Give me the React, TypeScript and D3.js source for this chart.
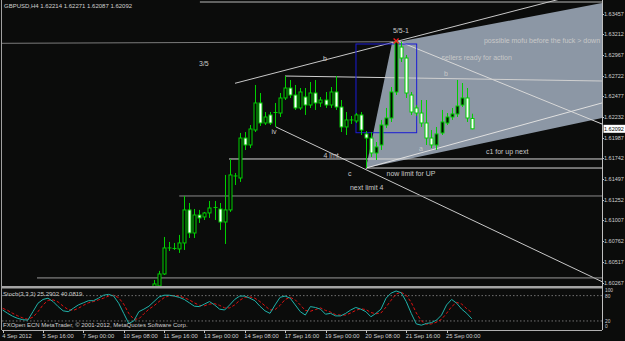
import React from 'react';
import * as d3 from 'd3';

// ---------- data ----------
const firstBar = 30;
const opens = [1.60161,1.60232,1.60374,1.60670,1.60670,1.60670,1.60741,1.61132,1.60859,1.61072,1.61049,1.61096,1.61155,1.61143,1.60989,1.61132,1.61522,1.61510,1.61983,1.61901,1.62078,1.62398,1.62161,1.62256,1.62279,1.62279,1.62457,1.62575,1.62492,1.62339,1.62469,1.62374,1.62516,1.62398,1.62433,1.62374,1.62528,1.62350,1.62114,1.62197,1.62185,1.62256,1.62031,1.61983,1.61806,1.61901,1.62137,1.62220,1.62528,1.63060,1.62930,1.62492,1.62339,1.62279,1.62161,1.61983,1.61901,1.62043,1.62161,1.62232,1.62268,1.62374,1.62457,1.62214];
const highs = [1.60303,1.60410,1.60812,1.60753,1.60741,1.60836,1.61297,1.61214,1.61143,1.61132,1.61108,1.61238,1.61238,1.61214,1.61546,1.61735,1.61569,1.62043,1.62054,1.62137,1.62611,1.62516,1.62291,1.62291,1.62398,1.62516,1.62717,1.62670,1.62611,1.62575,1.62575,1.62646,1.62670,1.62469,1.62528,1.62587,1.62717,1.62433,1.62291,1.62244,1.62279,1.62291,1.62066,1.62054,1.61936,1.62197,1.62339,1.62587,1.63143,1.63120,1.62966,1.62528,1.62374,1.62433,1.62433,1.62078,1.62114,1.62315,1.62279,1.62339,1.62670,1.62634,1.62575,1.62271];
const lows = [1.60114,1.60161,1.60362,1.60646,1.60658,1.60623,1.60658,1.60800,1.60800,1.60978,1.61013,1.61037,1.61013,1.60895,1.60729,1.61108,1.61427,1.61463,1.61841,1.61865,1.62054,1.62125,1.62137,1.62137,1.62114,1.62232,1.62433,1.62457,1.62315,1.62315,1.62256,1.62339,1.62315,1.62350,1.62339,1.62339,1.62315,1.62054,1.62019,1.62149,1.62161,1.62019,1.61628,1.61759,1.61723,1.61841,1.62102,1.62173,1.62492,1.62883,1.62457,1.62256,1.62244,1.62114,1.61901,1.61865,1.61841,1.62019,1.62137,1.62197,1.62232,1.62350,1.62173,1.62087];
const closes = [1.60256,1.60374,1.60682,1.60682,1.60676,1.60741,1.61132,1.60859,1.61072,1.61037,1.61096,1.61155,1.61161,1.60989,1.61132,1.61546,1.61534,1.61983,1.61901,1.62090,1.62398,1.62161,1.62232,1.62161,1.62285,1.62457,1.62575,1.62492,1.62339,1.62528,1.62374,1.62516,1.62398,1.62433,1.62374,1.62528,1.62350,1.62114,1.62197,1.62190,1.62256,1.62078,1.61983,1.61806,1.61877,1.62137,1.62220,1.62528,1.63120,1.62930,1.62516,1.62291,1.62279,1.62161,1.61983,1.61901,1.62031,1.62173,1.62232,1.62268,1.62362,1.62457,1.62220,1.62092];

const stochK = [46,38,31,26,23,22,42,62,71,74,66,54,44,42,50,58,63,68,68,74,81,83,79,62,38,14,20,42,48,55,66,77,81,81,79,76,71,63,55,54,60,
  66,58,48,46,58,71,79,79,74,68,55,44,38,58,76,79,74,58,42,34,54,
  52,48,36,38,32,32,38,46,52,48,42,30,38,48,74,86,91,87,66,38,13,10,14,16,22,34,58,71,62,48,38,25];
const stochD = [50,45,38,32,27,24,29,42,58,69,70,65,55,47,45,50,57,63,66,70,74,79,81,75,60,38,24,25,37,48,56,66,75,80,80,79,75,70,63,57,56,
  60,61,57,51,51,58,69,76,77,74,66,56,46,47,57,71,76,70,58,45,43,
  47,51,45,41,35,34,34,39,45,49,47,40,37,39,53,69,84,88,81,64,39,20,12,13,17,24,38,54,64,60,49,40];

const priceTicks = [1.63457,1.63212,1.62967,1.62722,1.62477,1.62232,1.61987,1.61742,1.61497,1.61252,1.61007,1.60762,1.60517,1.60267];
const currentPrice = 1.62092;
const dateLabels = ['4 Sep 2012','5 Sep 16:00','7 Sep 00:00','10 Sep 08:00','11 Sep 16:00','13 Sep 00:00','14 Sep 08:00','17 Sep 16:00','19 Sep 00:00','20 Sep 08:00','21 Sep 16:00','25 Sep 00:00'];
const dateLabelBars = [0,8,16,24,32,40,48,56,64,72,80,88];
const stochLevels = [80, 20];
const stochAxisLabels = ['100','80','20','0'];
const stochAxisValues = [100,80,20,0];

// chart objects: [bar1, price1, bar2, price2]
const lineGray43 = [-1, 1.63104, 77.4, 1.63123];
const lineTop = [39.1, 1.63593, 125, 1.63593];
const lineB = [46.06, 1.62631, 78.37, 1.63131];
const lineIv = [54.18, 1.62114, 118.8, 1.60283];
const lineX = [78.37, 1.63131, 118.8, 1.62149];
const lineBHoriz = [55.97, 1.62717, 118.8, 1.62658];
const line4lmt = [44.87, 1.61735, 125, 1.61735];
const lineNow = [72, 1.61628, 125, 1.61628];
const lineNext = [35, 1.61297, 125, 1.61297];
const lineBottom = [6.81, 1.60327, 125, 1.60327];
const lineA = [72.02, 1.61628, 118.8, 1.62398];
const wedgeBars = [72.02, 77.18, 125, 125];
const wedgePrices = [1.61628, 1.63108, 1.63652, 1.62298];
const rectBox = [70.04, 1.63096, 82.07, 1.62046];
const redMark = [78, 1.63131];

const noteTexts = ['3/5','5/5-1','b','possible mofu before the fuck > down','sellers ready for action','b','iv','4 lmt','c','now limit for UP','next limit 4','a','c1 for up next'];
const noteBars = [38.92, 77.37, 63.5, 95.4, 86.99, 87.48, 53.29, 63.6, 68.45, 76.09, 68.85, 82.53, 95.8];
const notePrices = [1.62830, 1.63226, 1.62889, 1.63102, 1.62907, 1.62723, 1.62031, 1.61747, 1.61534, 1.61534, 1.61368, 1.61824, 1.61794];

const titleText = 'GBPUSD,H4  1.62214 1.62271 1.62087 1.62092';
const stochTitle = 'Stoch(3,3,3) 25.2902 40.0819';
const copyright = 'FXOpen ECN MetaTrader, \u00a9 2001-2012, MetaQuotes Software Corp.';

// ---------- component ----------
export default function App() {
  const W = 625, H = 341;
  const left = 2, right = 602, mainTop = 0, mainBottom = 286;
  const stTop = 289, stBottom = 330;
  const x = d3.scaleLinear().domain([0, 93]).range([2.65, 471.8]);
  const y = d3.scaleLinear().domain([1.60267, 1.63457]).range([283.0, 13.5]);
  const ys = d3.scaleLinear().domain([0, 100]).range([329.4, 287.2]);
  const font = "'Liberation Sans', Arial, sans-serif";
  const green = '#00d000';
  const txt = '#c8c8c8';

  const seg = (l: number[], color: string, key: string, w = 1) => (
    <line key={key} x1={x(l[0])} y1={y(l[1])} x2={x(l[2])} y2={y(l[3])} stroke={color} strokeWidth={w} />
  );
  const ray = (l: number[], color: string, key: string) => {
    const x1 = x(l[0]), y1 = y(l[1]), x2 = x(l[2]), y2 = y(l[3]);
    const t = 10;
    return <line key={key} x1={x1} y1={y1} x2={x1 + (x2 - x1) * t} y2={y1 + (y2 - y1) * t} stroke={color} strokeWidth={1} />;
  };

  const wedge = wedgeBars.map((b, i) => [x(b), y(wedgePrices[i])] as [number, number]);
  const kLine = d3.line<number>().x((_, i) => x(i)).y(d => ys(d));
  const stochLabelY = (v: number) => (v === 100 ? 291.5 : v === 80 ? 297.5 : v === 20 ? 322.5 : 327.5);

  return (
    <svg width={W} height={H} style={{ position: 'absolute', left: 0, top: 0, display: 'block' }}>
      <defs>
        <clipPath id="mainClip"><rect x={left} y={mainTop} width={right - left} height={mainBottom - mainTop} /></clipPath>
        <clipPath id="stClip"><rect x={left} y={stTop} width={right - left} height={stBottom - stTop} /></clipPath>
      </defs>
      <rect x={0} y={0} width={W} height={H} fill="#0b0c0b" />
      <g clipPath="url(#mainClip)">
        <polygon points={wedge.map(p => p.join(',')).join(' ')} fill="#8c97a5" />
        {seg(lineGray43, '#7c7c7c', 'g43')}
        {seg(lineTop, '#b8b8b8', 'top')}
        {ray(lineB, '#c8c8c8', 'b')}
        {ray(lineIv, '#c8c8c8', 'iv')}
        {ray(lineX, '#d8d8d8', 'x')}
        {seg(lineBHoriz, '#d0d0d0', 'bh')}
        {seg(line4lmt, '#d8d8d8', '4l')}
        {seg(lineNow, '#d8d8d8', 'now')}
        {seg(lineNext, '#8a8a8a', 'next')}
        {seg(lineBottom, '#9a9a9a', 'bot')}
        {ray(lineA, '#e0e0e0', 'a')}
        <rect x={x(rectBox[0])} y={y(rectBox[1])} width={x(rectBox[2]) - x(rectBox[0])} height={y(rectBox[3]) - y(rectBox[1])} fill="none" stroke="#1c1cd4" strokeWidth={1} />
        {opens.map((o, k) => {
          const i = firstBar + k;
          const cx = Math.round(x(i)) + 0.5;
          const c = closes[k];
          const top = y(Math.max(o, c)), bot = y(Math.min(o, c));
          const bull = c >= o;
          return (
            <g key={k}>
              <line x1={cx} x2={cx} y1={y(highs[k])} y2={y(lows[k])} stroke={green} strokeWidth={1} />
              {bot - top < 1.2
                ? <line x1={cx - 2} x2={cx + 2} y1={top} y2={top} stroke={green} strokeWidth={1} />
                : <rect x={cx - 1.5} y={top} width={3} height={bot - top} fill={bull ? '#050805' : '#ffffff'} stroke={green} strokeWidth={1} />}
            </g>
          );
        })}
        <g stroke="#ff2020" strokeWidth={1.2}>
          <line x1={x(redMark[0]) - 2.5} y1={y(redMark[1]) - 2.5} x2={x(redMark[0]) + 2.5} y2={y(redMark[1]) + 2.5} />
          <line x1={x(redMark[0]) - 2.5} y1={y(redMark[1]) + 2.5} x2={x(redMark[0]) + 2.5} y2={y(redMark[1]) - 2.5} />
        </g>
        {noteTexts.map((t, i) => (
          <text key={i} x={x(noteBars[i])} y={y(notePrices[i])} fill={txt} fontSize={7} fontFamily={font}>{t}</text>
        ))}
      </g>
      <text x={4} y={8.3} fill="#d0d0d0" fontSize={6} fontFamily={font}>{titleText}</text>
      {/* separator */}
      <rect x={left} y={286} width={right - left} height={2.5} fill="#a4a4a4" />
      {/* stochastic */}
      {stochLevels.map(l => (
        <line key={l} x1={left} x2={right} y1={ys(l)} y2={ys(l)} stroke="#8a8a8a" strokeWidth={0.8} strokeDasharray="1.5,2" />
      ))}
      <g clipPath="url(#stClip)">
        <path d={kLine(stochD) || ''} fill="none" stroke="#e01010" strokeWidth={1} strokeDasharray="3,2" />
        <path d={kLine(stochK) || ''} fill="none" stroke="#20b2aa" strokeWidth={1} />
      </g>
      <text x={3} y={296.3} fill="#d0d0d0" fontSize={6} fontFamily={font}>{stochTitle}</text>
      <text x={3} y={326.5} fill="#d0d0d0" fontSize={6} fontFamily={font}>{copyright}</text>
      <line x1={left} x2={right} y1={stBottom + 0.5} y2={stBottom + 0.5} stroke="#b0b0b0" />
      {/* borders */}
      <line x1={1.5} x2={1.5} y1={0} y2={stBottom} stroke="#a0a0a0" />
      <line x1={right + 0.5} x2={right + 0.5} y1={0} y2={stBottom} stroke="#c0c0c0" />
      {/* price axis */}
      {priceTicks.map(p => (
        <g key={p}>
          <line x1={right} x2={right + 2} y1={Math.round(y(p)) + 0.5} y2={Math.round(y(p)) + 0.5} stroke="#c0c0c0" />
          <text x={604} y={y(p) + 2} fill="#d0d0d0" fontSize={5.5} fontFamily={font}>{p.toFixed(5)}</text>
        </g>
      ))}
      <rect x={603.5} y={y(currentPrice) - 4} width={21.5} height={8} fill="#ffffff" />
      <text x={604} y={y(currentPrice) + 2} fill="#000" fontSize={5.5} fontFamily={font}>{currentPrice.toFixed(5)}</text>
      {stochAxisValues.map((v, i) => (
        <text key={v} x={605} y={stochLabelY(v)} fill="#d0d0d0" fontSize={4.8} fontFamily={font}>{stochAxisLabels[i]}</text>
      ))}
      {/* date axis */}
      {dateLabelBars.map((b, i) => (
        <g key={b}>
          <line x1={Math.round(x(b)) + 0.5} x2={Math.round(x(b)) + 0.5} y1={stBottom} y2={stBottom + 3} stroke="#c0c0c0" />
          <text x={x(b) - 0.5} y={338.3} fill="#d0d0d0" fontSize={5.8} fontFamily={font}>{dateLabels[i]}</text>
        </g>
      ))}
    </svg>
  );
}
